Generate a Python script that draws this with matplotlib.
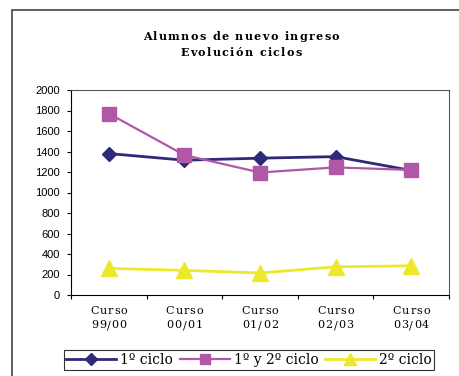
import matplotlib
matplotlib.use('Agg')
from matplotlib import pyplot as plt
from matplotlib.patches import Rectangle
from matplotlib.font_manager import FontProperties
from matplotlib.textpath import TextToPath
from matplotlib.transforms import offset_copy

# Datos
cursos = ['Curso\n99/00', 'Curso\n00/01', 'Curso\n01/02', 'Curso\n02/03', 'Curso\n03/04']
ciclo1 = [1380, 1315, 1335, 1350, 1215]
ciclo12 = [1770, 1365, 1195, 1245, 1220]
ciclo2 = [260, 240, 215, 275, 285]
y_ticks = [0, 200, 400, 600, 800, 1000, 1200, 1400, 1600, 1800, 2000]
titulo = ['Alumnos de nuevo ingreso', 'Evolución ciclos']

ttp = TextToPath()


# Ancho de avance de un carácter (en puntos)
def adv(c, prop):
    w1 = ttp.get_text_width_height_descent('x' + c + 'x', prop, ismath=False)[0]
    w0 = ttp.get_text_width_height_descent('xx', prop, ismath=False)[0]
    return w1 - w0


# Texto con espaciado entre letras, centrado en (x, y)
def spaced_text(fig, x, y, s, transform, prop, tracking, dy=0):
    widths = [adv(c, prop) for c in s]
    total = sum(widths) + tracking * (len(s) - 1)
    pos = -total / 2
    for c, w in zip(s, widths):
        tr = offset_copy(transform, fig=fig, x=pos, y=dy, units='points')
        fig.text(x, y, c, transform=tr, ha='left', va='center', fontproperties=prop)
        pos += w + tracking


fig = plt.figure(figsize=(4.59, 3.76), dpi=100)
ax = fig.add_axes([71 / 459, 81 / 376, 378 / 459, 205 / 376])

x = list(range(len(cursos)))
ax.plot(x, ciclo1, color='#2E2A78', lw=2, marker='D', ms=7.5, label='1º ciclo')
ax.plot(x, ciclo12, color='#B057A6', lw=1.6, marker='s', ms=10, label='1º y 2º ciclo')
ax.plot(x, ciclo2, color='#EEE82A', lw=2, marker='^', ms=11, label='2º ciclo')

ax.set_xlim(-0.5, len(cursos) - 0.5)
ax.set_ylim(0, 2000)
ax.set_yticks(y_ticks)
ax.set_yticklabels([str(v) for v in y_ticks], family='Liberation Sans', fontsize=8)
ax.tick_params(axis='y', length=3, direction='out', pad=5)
ax.set_xticks([i - 0.5 for i in range(len(cursos) + 1)])
ax.set_xticklabels([])
ax.tick_params(axis='x', length=3, direction='out')

for s in ['left', 'bottom']:
    ax.spines[s].set_color('black')
for s in ['top', 'right']:
    ax.spines[s].set_color('#555555')

# Etiquetas del eje x
xprop = FontProperties(family='DejaVu Serif', size=8)
xtr = ax.get_xaxis_transform()
for i, lab in enumerate(cursos):
    l1, l2 = lab.split('\n')
    spaced_text(fig, i, 0, l1, xtr, xprop, 0.7, dy=-11.3)
    spaced_text(fig, i, 0, l2, xtr, xprop, 0.7, dy=-21.6)

# Título
tprop = FontProperties(family='DejaVu Serif', weight='bold', size=8)
spaced_text(fig, 241 / 459, 1 - 36 / 376, titulo[0], fig.transFigure, tprop, 1.0)
spaced_text(fig, 241 / 459, 1 - 52 / 376, titulo[1], fig.transFigure, tprop, 1.0)

leg = fig.legend(loc='center', bbox_to_anchor=(249 / 459, 1 - 360 / 376), ncol=3,
                 prop={'family': 'DejaVu Serif', 'size': 10}, frameon=True, fancybox=False,
                 handlelength=3.6, handletextpad=0.3, columnspacing=0.45, borderpad=0.2,
                 markerscale=0.75)
leg.get_frame().set_edgecolor('black')
leg.get_frame().set_linewidth(0.8)

# Marco exterior
fig.patches.append(Rectangle((12 / 459, -0.1), 1.2, 1 - 10 / 376 + 0.1, transform=fig.transFigure,
                             fill=False, edgecolor='#444444', lw=1.2))

fig.savefig('out.png', dpi=100)
